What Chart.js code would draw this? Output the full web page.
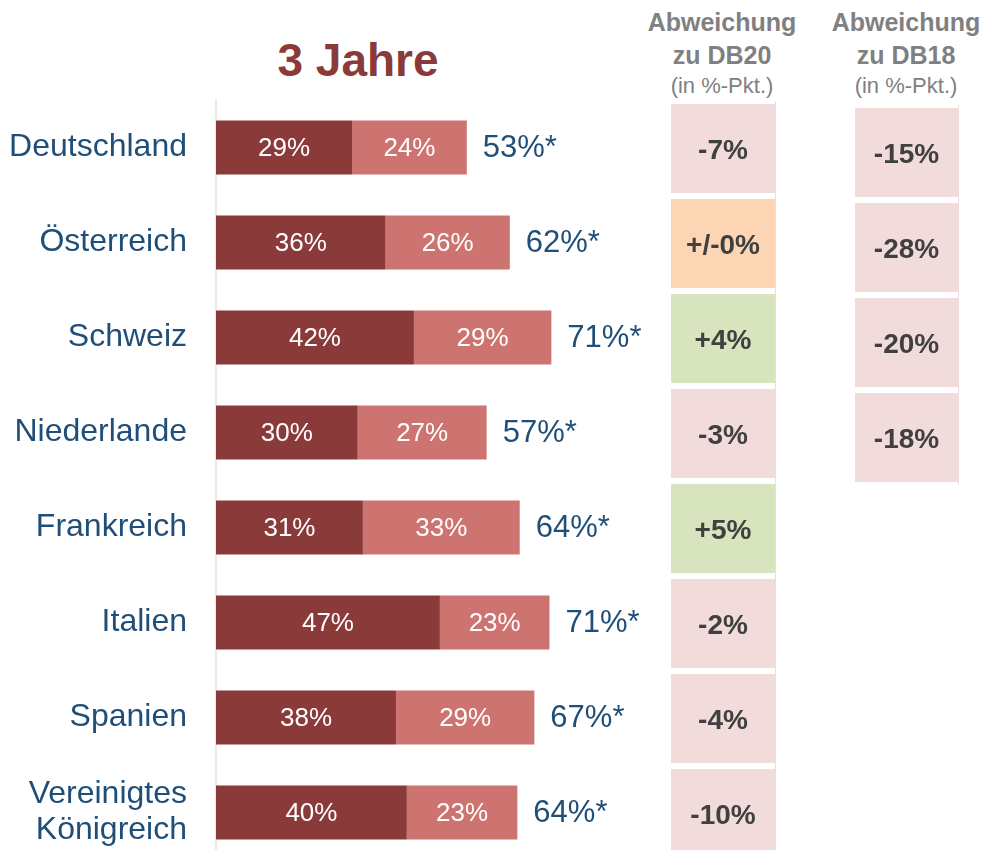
<!DOCTYPE html>
<html lang="de">
<head>
<meta charset="utf-8">
<title>3 Jahre</title>
<script src="https://cdn.jsdelivr.net/npm/chart.js@4/dist/chart.umd.min.js"></script>
<style>
  html, body { margin: 0; padding: 0; background: #fff; overflow: hidden; }
  body { width: 988px; height: 850px; position: relative; font-family: "Liberation Sans", Arial, sans-serif; }
  .box { position: absolute; }
  .txt { position: absolute; text-align: center; white-space: nowrap; }
  .head { color: #808080; font-weight: bold; font-size: 25px; line-height: 33px; }
  .sub { color: #808080; font-size: 22px; line-height: 29px; }
</style>
</head>
<body>

<div class="txt" style="left:258px; top:35px; width:200px; font-size:46px; line-height:50px; font-weight:bold; color:#8B3A3A;">3 Jahre</div>

<div class="txt head" style="left:622px; top:6px; width:200px;">Abweichung</div>
<div class="txt head" style="left:622px; top:39px; width:200px;">zu DB20</div>
<div class="txt sub" style="left:622px; top:71px; width:200px;">(in %-Pkt.)</div>

<div class="txt head" style="left:806px; top:6px; width:200px;">Abweichung</div>
<div class="txt head" style="left:806px; top:39px; width:200px;">zu DB18</div>
<div class="txt sub" style="left:806px; top:71px; width:200px;">(in %-Pkt.)</div>

<div class="box" style="left:0; top:0; width:660px; height:860px;"><canvas id="main-chart"></canvas></div>
<div class="box" style="left:671px; top:101px; width:105px; height:760px;"><canvas id="db20-chart"></canvas></div>
<div class="box" style="left:855px; top:105px; width:104px; height:380px;"><canvas id="db18-chart"></canvas></div>

<script>
'use strict';

const countries = ['Deutschland', 'Österreich', 'Schweiz', 'Niederlande', 'Frankreich', 'Italien', 'Spanien', ['Vereinigtes', 'Königreich']];

// dunkler Teil / heller Teil der Balken (in %)
const darkShare = [28.8, 35.9, 41.9, 30.0, 31.1, 47.4, 38.1, 40.4];
const lightShare = [24.3, 26.3, 29.1, 27.3, 33.2, 23.2, 29.3, 23.4];

// Abweichungen in %-Punkten
const diffDB20 = [-7, 0, 4, -3, 5, -2, -4, -10];
const diffDB18 = [-15, -28, -20, -18];

const fontFamily = '"Liberation Sans", Arial, sans-serif';
const blue = '#1F4E79';
const darkRed = '#8B3A3A';
const lightRed = '#CD7370';

Chart.defaults.font.family = fontFamily;
Chart.defaults.animation = false;

function formatDiff(v) {
  if (v === 0) return '+/-0%';
  if (v > 0) return '+' + v + '%';
  return v + '%';
}

function diffColor(v) {
  if (v === 0) return '#FCD5B5';
  if (v > 0) return '#D7E4BD';
  return '#F2DCDB';
}

const barLabels = {
  id: 'barLabels',
  afterDatasetsDraw(chart) {
    const ctx = chart.ctx;
    ctx.save();
    ctx.textBaseline = 'middle';

    // Werte in den Balken
    ctx.font = '26px ' + fontFamily;
    ctx.fillStyle = '#fff';
    ctx.textAlign = 'center';
    chart.data.datasets.forEach(function(ds, d) {
      const meta = chart.getDatasetMeta(d);
      meta.data.forEach(function(bar, i) {
        const p = bar.getProps(['x', 'y', 'base'], true);
        ctx.fillText(Math.round(ds.data[i]) + '%', (p.x + p.base) / 2, p.y + 1);
      });
    });

    // Summe rechts neben dem Balken
    ctx.font = '31px ' + fontFamily;
    ctx.fillStyle = blue;
    ctx.textAlign = 'left';
    const last = chart.getDatasetMeta(1);
    last.data.forEach(function(bar, i) {
      const total = Math.round(darkShare[i] + lightShare[i]);
      ctx.fillText(total + '%*', bar.x + 16, bar.y + 1);
    });
    ctx.restore();
  }
};

new Chart(document.getElementById('main-chart').getContext('2d'), {
  type: 'bar',
  data: {
    labels: countries,
    datasets: [{
      label: 'dunkel',
      data: darkShare,
      backgroundColor: darkRed,
      borderWidth: 0
    },
    {
      label: 'hell',
      data: lightShare,
      backgroundColor: lightRed,
      borderWidth: 0
    }]
  },
  options: {
    indexAxis: 'y',
    responsive: true,
    maintainAspectRatio: false,
    barPercentage: 0.57,
    categoryPercentage: 1,
    layout: { padding: { top: 100, left: 0, right: 0, bottom: 0 } },
    plugins: { legend: { display: false }, tooltip: { enabled: false } },
    scales: {
      x: { stacked: true, min: 0, max: 94, display: false },
      y: {
        stacked: true,
        grid: { display: false, drawTicks: false },
        border: { display: true, color: '#ECE9DF', width: 2 },
        ticks: {
          color: blue,
          padding: 29,
          font: { size: 32, lineHeight: 1.13 }
        },
        afterFit(scale) {
          scale.width = 216;
          scale.paddingTop = 0;
          scale.paddingBottom = 0;
        }
      }
    }
  },
  plugins: [barLabels]
});

const cellLabels = {
  id: 'cellLabels',
  afterDatasetsDraw(chart) {
    const ctx = chart.ctx;
    const values = chart.options.cellValues;
    ctx.save();
    ctx.font = 'bold 28px ' + fontFamily;
    ctx.fillStyle = '#404040';
    ctx.textAlign = 'center';
    ctx.textBaseline = 'middle';
    chart.getDatasetMeta(0).data.forEach(function(bar, i) {
      const p = bar.getProps(['x', 'y', 'base'], true);
      ctx.fillText(formatDiff(values[i]), (p.x + p.base) / 2, p.y + 3);
    });
    ctx.restore();
  }
};

function renderDiffColumn(canvasId, values, labels) {
  new Chart(document.getElementById(canvasId).getContext('2d'), {
    type: 'bar',
    data: {
      labels: labels,
      datasets: [{
        data: values.map(function() { return 1; }),
        backgroundColor: values.map(diffColor),
        borderWidth: 0
      }]
    },
    options: {
      cellValues: values,
      indexAxis: 'y',
      responsive: true,
      maintainAspectRatio: false,
      barPercentage: 0.937,
      categoryPercentage: 1,
      layout: { padding: { top: 0, left: 0, right: 1, bottom: 0 } },
      plugins: { legend: { display: false }, tooltip: { enabled: false } },
      scales: {
        x: { min: 0, max: 1, display: false },
        y: {
          position: 'right',
          grid: { display: false, drawTicks: false },
          border: { display: true, color: '#EEDDDD', width: 1 },
          ticks: { display: false },
          afterFit(scale) { scale.width = 0; }
        }
      }
    },
    plugins: [cellLabels]
  });
}

renderDiffColumn('db20-chart', diffDB20, countries);
renderDiffColumn('db18-chart', diffDB18, countries.slice(0, 4));
</script>
</body>
</html>
